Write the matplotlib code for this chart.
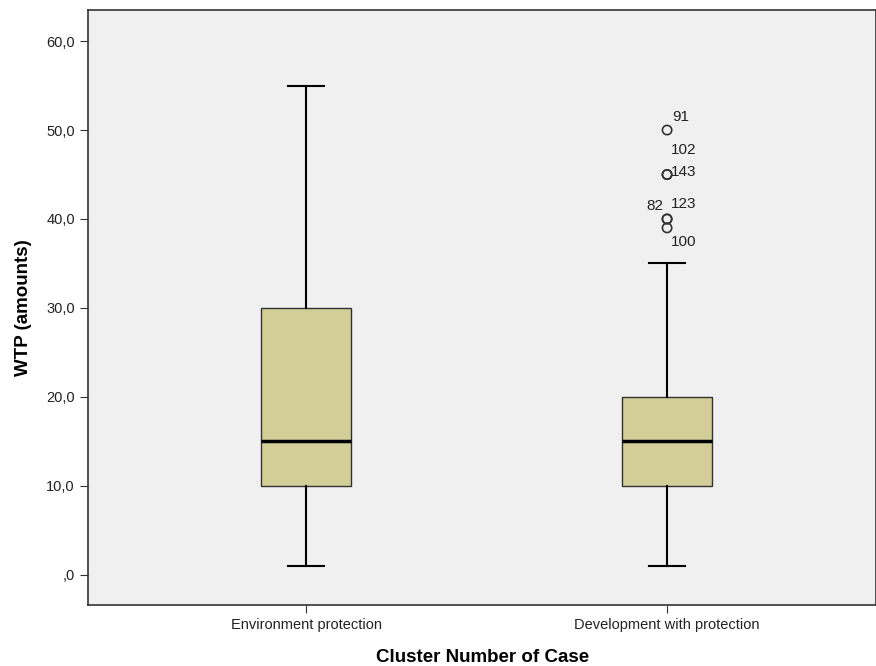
import matplotlib
matplotlib.use("Agg")
import matplotlib.pyplot as plt

plt.rcParams['font.family'] = ['Liberation Sans', 'DejaVu Sans']

# summary statistics per cluster
clusters = ['Environment protection', 'Development with protection']
whislo = [1, 1]
q1 = [10, 10]
med = [15, 15]
q3 = [30, 20]
whishi = [55, 35]
# outliers of second cluster: case id, value
outlier_ids = ['91', '102', '143', '82', '123', '100']
outlier_vals = [50, 45, 45, 40, 40, 39]
yticks = [0, 10, 20, 30, 40, 50, 60]
ytick_labels = [',0', '10,0', '20,0', '30,0', '40,0', '50,0', '60,0']

stats = []
for i, name in enumerate(clusters):
    stats.append({'label': name, 'whislo': whislo[i], 'q1': q1[i], 'med': med[i],
                  'q3': q3[i], 'whishi': whishi[i], 'fliers': []})

fig = plt.figure(figsize=(8.76, 6.66), dpi=100)
ax = fig.add_axes([0.1005, 0.0916, 0.9, 0.8934])
ax.set_facecolor('#F0F0F0')

ax.bxp(stats, positions=[1, 2], widths=0.25, patch_artist=True, showfliers=False,
       boxprops=dict(facecolor='#D3CE98', edgecolor='#333333', linewidth=1),
       medianprops=dict(color='black', linewidth=2.5),
       whiskerprops=dict(color='black', linewidth=1.5),
       capprops=dict(color='black', linewidth=1.5), capwidths=0.1)

ax.scatter([2] * len(outlier_vals), outlier_vals, s=45, facecolors='none',
           edgecolors='#333333', linewidths=1.2, zorder=3)

# case labels next to the outliers
offsets = {'91': (0.015, 1.5, 'left'), '102': (0.01, 2.8, 'left'),
           '143': (0.01, 0.3, 'left'), '82': (-0.01, 1.5, 'right'),
           '123': (0.01, 1.7, 'left'), '100': (0.01, -1.6, 'left')}
for cid, val in zip(outlier_ids, outlier_vals):
    dx, dy, ha = offsets[cid]
    ax.text(2 + dx, val + dy, cid, ha=ha, va='center', fontsize=11, color='#222222')

ax.set_xlim(0.396, 2.58)
ax.set_ylim(-3.4, 63.5)
ax.set_yticks(yticks)
ax.set_yticklabels(ytick_labels, fontsize=10.5)
ax.set_xticks([1, 2])
ax.set_xticklabels(clusters, fontsize=10.5)
ax.tick_params(length=6, color='#333333', colors='#222222')
for s in ax.spines.values():
    s.set_color('#333333')
    s.set_linewidth(1.2)

ax.set_ylabel('WTP (amounts)', fontsize=13.5, fontweight='bold', labelpad=10)
ax.set_xlabel('Cluster Number of Case', fontsize=13.5, fontweight='bold', labelpad=12)

fig.savefig('out.png', dpi=100)
